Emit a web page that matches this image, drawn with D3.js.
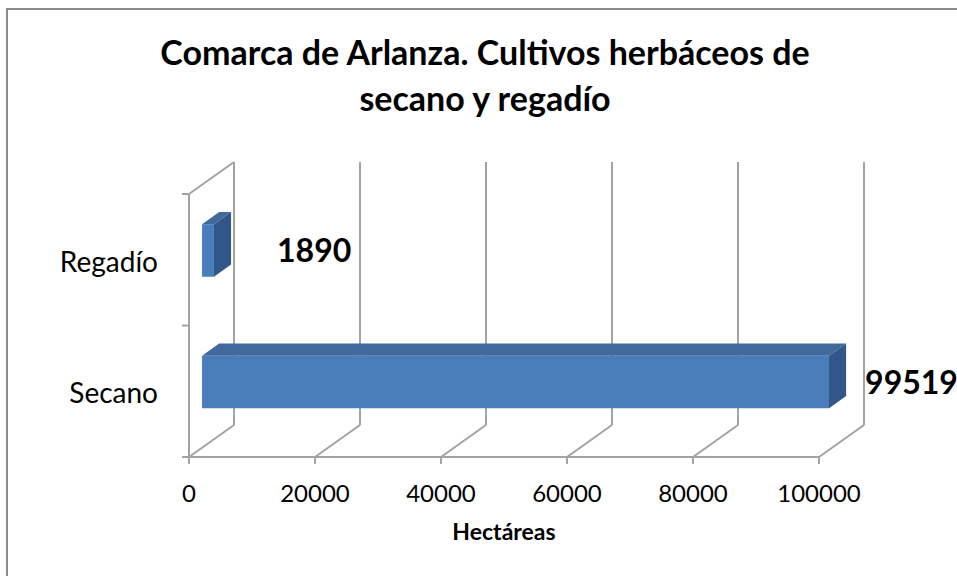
<!DOCTYPE html>
<html>
<head>
<meta charset="utf-8">
<script src="https://cdn.jsdelivr.net/npm/d3@7"></script>
<style>
  body { margin: 0; background: #fff; }
  svg { display: block; font-family: Lato, "Open Sans", sans-serif; }
</style>
</head>
<body>
<div id="chart"></div>
<script>
// data
const categories = ['Regadío', 'Secano'];
const values = [1890, 99519];
const xTicks = [0, 20000, 40000, 60000, 80000, 100000];
const titleLines = ['Comarca de Arlanza. Cultivos herbáceos de', 'secano y regadío'];
const xTitle = 'Hectáreas';

const width = 957, height = 576;

// 3d box: front plane + depth offset
const DX = 45, DY = -32;
const barD0 = 0.29, barD1 = 0.67; // bar sits inside the depth

let x = d3.scaleLinear()
    .domain([0, 100000])
    .range([189, 819]);

let y = d3.scaleBand()
    .domain(categories)
    .range([194, 457])
    .paddingInner(0.6)
    .paddingOuter(0.3);

const yTop = 194, yBot = 457;

// project a point (value, front y, depth 0..1)
function P(v, yy, d) {
    return [x(v) + d * DX, yy + d * DY];
}

let svg = d3.select('#chart').append('svg')
    .attr('width', width)
    .attr('height', height);

// outer chart border
svg.append('rect')
    .attr('x', 7).attr('y', 9)
    .attr('width', 1000).attr('height', 600)
    .attr('fill', 'none')
    .attr('stroke', '#8c8c8c')
    .attr('stroke-width', 2);

// title
svg.append('g').selectAll('text')
    .data(titleLines)
    .enter()
    .append('text')
    .attr('x', 485)
    .attr('y', (d, i) => 65 + i * 46)
    .attr('text-anchor', 'middle')
    .attr('font-size', 34)
    .attr('font-weight', 'bold')
    .text(d => d);

const gridColor = '#a3a3a3';
let grid = svg.append('g')
    .attr('stroke', gridColor)
    .attr('stroke-width', 2)
    .attr('fill', 'none');

// back wall gridlines
grid.selectAll('.back')
    .data(xTicks)
    .enter()
    .append('line')
    .attr('x1', d => P(d, yTop, 1)[0]).attr('y1', d => P(d, yTop, 1)[1])
    .attr('x2', d => P(d, yBot, 1)[0]).attr('y2', d => P(d, yBot, 1)[1]);

// floor lines
grid.selectAll('.floor')
    .data(xTicks)
    .enter()
    .append('line')
    .attr('x1', d => P(d, yBot, 1)[0]).attr('y1', d => P(d, yBot, 1)[1])
    .attr('x2', d => P(d, yBot, 0)[0]).attr('y2', d => P(d, yBot, 0)[1]);

// front axis line + tick marks
grid.append('line')
    .attr('x1', x(0) - 7).attr('y1', yBot)
    .attr('x2', x(100000)).attr('y2', yBot);
grid.selectAll('.tick')
    .data(xTicks)
    .enter()
    .append('line')
    .attr('x1', d => x(d)).attr('y1', yBot)
    .attr('x2', d => x(d)).attr('y2', yBot + 7);

// left side wall
grid.append('line')
    .attr('x1', x(0)).attr('y1', yTop)
    .attr('x2', x(0)).attr('y2', yBot);
grid.append('line')
    .attr('x1', x(0)).attr('y1', yTop)
    .attr('x2', P(0, yTop, 1)[0]).attr('y2', P(0, yTop, 1)[1]);
const bandEdges = [yTop, y('Secano') - y.step() * y.paddingInner() / 2, yBot];
grid.selectAll('.ytick')
    .data(bandEdges)
    .enter()
    .append('line')
    .attr('x1', x(0) - 7).attr('y1', d => d)
    .attr('x2', x(0)).attr('y2', d => d);

// bars
const bars = categories.map((c, i) => ({ c: c, v: values[i], t: y(c), b: y(c) + y.bandwidth() }));
let gb = svg.append('g');

function poly(pts) {
    return 'M' + pts.map(p => p.join(',')).join('L') + 'Z';
}

gb.selectAll('.top')
    .data(bars)
    .enter()
    .append('path')
    .attr('d', d => poly([P(0, d.t, barD0), P(d.v, d.t, barD0), P(d.v, d.t, barD1), P(0, d.t, barD1)]))
    .attr('fill', '#41699c');

gb.selectAll('.side')
    .data(bars)
    .enter()
    .append('path')
    .attr('d', d => poly([P(d.v, d.t, barD0), P(d.v, d.t, barD1), P(d.v, d.b, barD1), P(d.v, d.b, barD0)]))
    .attr('fill', '#31578a');

gb.selectAll('.front')
    .data(bars)
    .enter()
    .append('path')
    .attr('d', d => poly([P(0, d.t, barD0), P(d.v, d.t, barD0), P(d.v, d.b, barD0), P(0, d.b, barD0)]))
    .attr('fill', '#4a7ebb');

// value labels
const labelShift = { 'Regadío': 46, 'Secano': 19 };
svg.append('g').selectAll('text')
    .data(bars)
    .enter()
    .append('text')
    .attr('x', d => P(d.v, d.t, barD1)[0] + labelShift[d.c])
    .attr('y', d => P(0, (d.t + d.b) / 2, barD0)[1] + 12)
    .attr('font-size', 32)
    .attr('font-weight', 'bold')
    .text(d => d.v);

// category labels
svg.append('g').selectAll('text')
    .data(categories)
    .enter()
    .append('text')
    .attr('x', 158)
    .attr('y', d => y(d) + y.bandwidth() / 2 + 12)
    .attr('text-anchor', 'end')
    .attr('font-size', 28)
    .text(d => d);

// x tick labels
svg.append('g').selectAll('text')
    .data(xTicks)
    .enter()
    .append('text')
    .attr('x', d => x(d))
    .attr('y', 502)
    .attr('text-anchor', 'middle')
    .attr('font-size', 24)
    .text(d => d);

svg.append('text')
    .attr('x', (x(0) + x(100000)) / 2)
    .attr('y', 540)
    .attr('text-anchor', 'middle')
    .attr('font-size', 23)
    .attr('font-weight', 'bold')
    .text(xTitle);
</script>
</body>
</html>
